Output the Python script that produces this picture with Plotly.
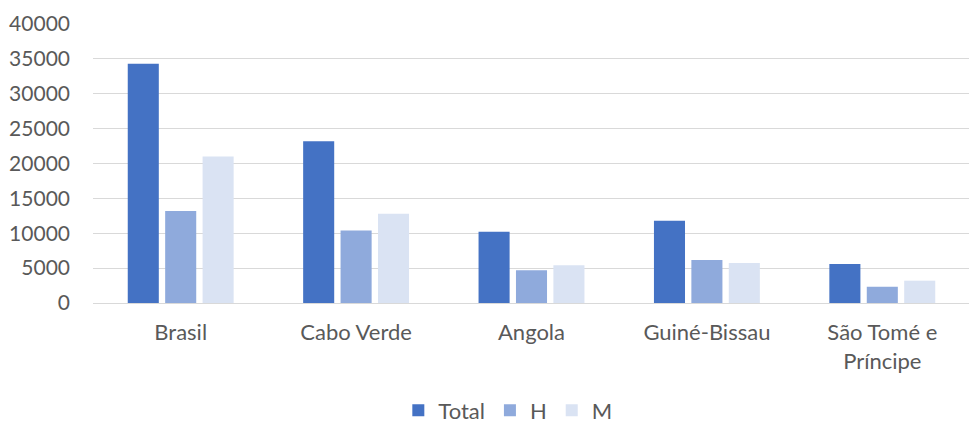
import plotly.graph_objects as go

categories = ["Brasil", "Cabo Verde", "Angola", "Guiné-Bissau", "São Tomé e<br>Príncipe"]
total = [34300, 23200, 10200, 11800, 5600]
h = [13200, 10400, 4700, 6150, 2330]
m = [21000, 12800, 5400, 5750, 3200]
y_ticks = [0, 5000, 10000, 15000, 20000, 25000, 30000, 35000, 40000]

font = "Lato"
fig = go.Figure()
for name, vals, col in [("Total", total, "#4472C4"), ("H", h, "#8FAADC"), ("M", m, "#DAE3F3")]:
    fig.add_trace(go.Bar(x=categories, y=vals, name=name, marker=dict(color=col, line=dict(width=0))))

fig.update_layout(
    width=977, height=423,
    barmode="group", bargap=0.36, bargroupgap=0.17,
    plot_bgcolor="white", paper_bgcolor="white",
    margin=dict(l=85, r=15, t=16, b=128, autoexpand=False),
    font=dict(family=font, size=19, color="#595959"),
    legend=dict(orientation="h", x=0.473, xanchor="center", y=-0.385, yanchor="middle",
                font=dict(size=22, color="#595959"), itemwidth=30, traceorder="normal"),
    xaxis=dict(showline=False, ticks="", tickfont=dict(size=22), automargin=False,
               ticklabelstandoff=14),
    yaxis=dict(range=[0, 40000], tickvals=y_ticks, ticktext=[str(v) for v in y_ticks],
               showgrid=True, gridcolor="#D9D9D9", gridwidth=1.3,
               zeroline=True, zerolinecolor="#D9D9D9", zerolinewidth=1.3, ticks="",
               ticklabelstandoff=22, automargin=False, tickfont=dict(size=21)),
)
fig.write_html("out.html")
